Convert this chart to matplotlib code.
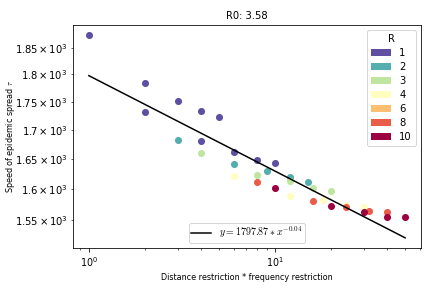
import numpy as np
import matplotlib
matplotlib.use("Agg")
import matplotlib.pyplot as plt
from matplotlib.patches import Patch

plt.rcParams['mathtext.fontset'] = 'cm'
plt.rcParams['font.family'] = ['DejaVu Sans']

R_values = [1, 2, 3, 4, 6, 8, 10]

x_R1 = [1, 2, 3, 4, 5, 2, 4, 6, 8, 10]
y_R1 = [1874, 1784, 1752, 1734, 1723.5, 1732, 1682, 1662, 1649, 1644]
x_R2 = [3, 6, 9, 12, 15]
y_R2 = [1683, 1643, 1630, 1620, 1612]
x_R3 = [4, 8, 12, 16, 20]
y_R3 = [1661, 1623, 1614, 1602, 1598]
x_R4 = [6, 12, 18, 24, 30]
y_R4 = [1622, 1589, 1582, 1575, 1571]
x_R6 = []
y_R6 = []
x_R8 = [8, 16, 24, 32, 40]
y_R8 = [1611.5, 1580.5, 1571, 1565.5, 1563]
x_R10 = [10, 20, 30, 40, 50]
y_R10 = [1603, 1572.5, 1563, 1556, 1555]

fit_a = 1797.87
fit_b = -0.0425
fit_x = [1, 50]

title = "R0: 3.58"
xlabel = "Distance restriction * frequency restriction"
ylabel = r"Speed of epidemic spread $\tau$"

xs = [x_R1, x_R2, x_R3, x_R4, x_R6, x_R8, x_R10]
ys = [y_R1, y_R2, y_R3, y_R4, y_R6, y_R8, y_R10]
colors = plt.cm.Spectral_r(np.linspace(0, 1, len(R_values)))

fig = plt.figure(figsize=(6, 4), dpi=72)
ax = fig.add_axes([0.169, 0.139, 0.8055, 0.774])

for xv, yv, c in zip(xs, ys, colors):
    if len(xv):
        ax.scatter(xv, yv, s=50, color=c, linewidths=0, zorder=2)

fx = np.array(fit_x, dtype=float)
line, = ax.plot(fx, fit_a * fx ** fit_b, color='black', lw=1.5, zorder=3,
                label=r"$y = %.2f * x^{%.2f}$" % (fit_a, fit_b))

ax.set_xscale('log')
ax.set_yscale('log')

ax.set_title(title, fontsize=10)
ax.set_xlabel(xlabel, fontsize=8)
ax.set_ylabel(ylabel, fontsize=8)
ax.yaxis.set_label_coords(-0.16, 0.5)
ax.tick_params(labelsize=9.5)

handles = [Patch(facecolor=c, label=str(r)) for r, c in zip(R_values, colors)]
leg1 = ax.legend(handles=handles, title="R", loc='upper right', fontsize=10,
                 title_fontsize=10, labelspacing=0.4)
ax.add_artist(leg1)
ax.legend(handles=[line], loc='lower center', fontsize=10, borderpad=0.25)

fig.savefig("out.png", dpi=72)
